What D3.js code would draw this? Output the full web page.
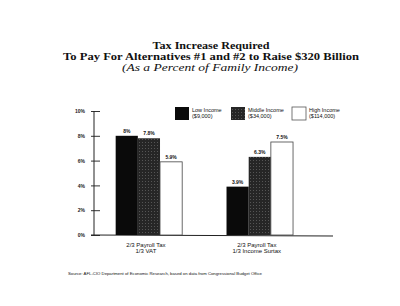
<!DOCTYPE html>
<meta charset="utf-8">
<script src="https://d3js.org/d3.v7.min.js"></script>
<style type="text/css">
body { margin: 0; background: #fff; }
.title { font-family: "Liberation Serif", "DejaVu Serif", serif; font-weight: bold; fill: #111; }
.sub { font-family: "Liberation Serif", serif; font-style: italic; fill: #111; }
.small { font-family: "Liberation Sans", Arial, sans-serif; fill: #111; }
.axis text { font-family: "Liberation Sans", Arial, sans-serif; font-size: 5px; font-weight: bold; fill: #222; }
.axis line, .axis path { stroke: #333; }
</style>
<body>
</body>
<script>
var categories = [["2/3 Payroll Tax", "1/3 VAT"], ["2/3 Payroll Tax", "1/3 Income Surtax"]];
var seriesNames = ["Low Income", "Middle Income", "High Income"];
var seriesIncome = ["($9,000)", "($34,000)", "($114,000)"];
var lowIncome = [8, 3.9];
var middleIncome = [7.8, 6.3];
var highIncome = [5.9, 7.5];
var valueLabels = [["8%", "7.8%", "5.9%"], ["3.9%", "6.3%", "7.5%"]];
var yTicks = [0, 2, 4, 6, 8, 10];

var fills = ["#0a0a0a", "#2e2e2e", "#ffffff"];

var svg = d3.select("body").append("svg")
    .attr("width", 400)
    .attr("height", 306);

var defs = svg.append("defs");
var pat = defs.append("pattern")
    .attr("id", "stipple")
    .attr("width", 3).attr("height", 3)
    .attr("patternUnits", "userSpaceOnUse");
pat.append("rect").attr("width", 3).attr("height", 3).attr("fill", "#262626");
pat.append("rect").attr("x", 1).attr("y", 1).attr("width", 1).attr("height", 1).attr("fill", "#555");

// titles
svg.append("text").attr("class", "title")
    .attr("x", 211).attr("y", 49).attr("text-anchor", "middle")
    .attr("font-size", "10.5px").attr("textLength", 117).attr("lengthAdjust", "spacingAndGlyphs")
    .text("Tax Increase Required");
svg.append("text").attr("class", "title")
    .attr("x", 211).attr("y", 60).attr("text-anchor", "middle")
    .attr("font-size", "10.5px").attr("textLength", 296).attr("lengthAdjust", "spacingAndGlyphs")
    .text("To Pay For Alternatives #1 and #2 to Raise $320 Billion");
svg.append("text").attr("class", "sub")
    .attr("x", 210).attr("y", 70.5).attr("text-anchor", "middle")
    .attr("font-size", "10.5px").attr("textLength", 176).attr("lengthAdjust", "spacingAndGlyphs")
    .text("(As a Percent of Family Income)");

var x0 = 94, y0 = 235;
var yScale = d3.scaleLinear().domain([0, 10]).range([y0, 111]);
var xScale = d3.scaleBand().domain([0, 1]).range([93.5, 315.2]).paddingInner(0.4).paddingOuter(0.2);
var xSub = d3.scaleBand().domain([0, 1, 2]).range([0, xScale.bandwidth()]);

var yAxis = svg.append("g")
    .attr("class", "axis")
    .attr("transform", "translate(" + x0 + ",0)")
    .call(d3.axisLeft(yScale).tickValues(yTicks).tickSize(0).tickPadding(9).tickFormat(function(d) { return d + "%"; }));
yAxis.select(".domain").remove();
yAxis.selectAll(".tick line").attr("x1", -3).attr("x2", 6).attr("stroke", "#333");
svg.append("line").attr("x1", x0).attr("x2", x0).attr("y1", yScale(10)).attr("y2", y0)
    .attr("stroke", "#222").attr("stroke-width", 1);
svg.append("line").attr("x1", x0 - 3).attr("x2", 333).attr("y1", y0).attr("y2", y0 + 1)
    .attr("stroke", "#222").attr("stroke-width", 1);

var data = [];
[lowIncome, middleIncome, highIncome].forEach(function(s, si) {
  s.forEach(function(v, ci) { data.push({c: ci, s: si, v: v}); });
});

svg.selectAll(".bar").data(data).enter().append("rect")
    .attr("class", "bar")
    .attr("x", function(d) { return xScale(d.c) + xSub(d.s); })
    .attr("y", function(d) { return yScale(d.v); })
    .attr("width", xSub.bandwidth())
    .attr("height", function(d) { return y0 - yScale(d.v); })
    .attr("fill", function(d) { return d.s == 1 ? "url(#stipple)" : fills[d.s]; })
    .attr("stroke", function(d) { return d.s == 2 ? "#444" : "none"; })
    .attr("stroke-width", 0.8);

svg.selectAll(".vlab").data(data).enter().append("text")
    .attr("class", "small")
    .attr("x", function(d) { return xScale(d.c) + xSub(d.s) + xSub.bandwidth() / 2; })
    .attr("y", function(d) { return yScale(d.v) - 3; })
    .attr("text-anchor", "middle")
    .attr("font-size", "5px").attr("font-weight", "bold")
    .text(function(d) { return valueLabels[d.c][d.s]; });

// category labels
categories.forEach(function(lines, ci) {
  var t = svg.append("text").attr("class", "small")
      .attr("text-anchor", "middle").attr("font-size", "6px");
  lines.forEach(function(l, li) {
    t.append("tspan").attr("x", xScale(ci) + xScale.bandwidth() / 2 - 3)
        .attr("y", 247 + li * 6).text(l);
  });
});

// legend
var legendX = [175, 231, 292];
seriesNames.forEach(function(n, i) {
  svg.append("rect").attr("x", legendX[i]).attr("y", 107).attr("width", 14).attr("height", 13)
      .attr("fill", i == 1 ? "url(#stipple)" : fills[i])
      .attr("stroke", i == 2 ? "#555" : "none").attr("stroke-width", 0.8);
  var t = svg.append("text").attr("class", "small").attr("font-size", "5.5px");
  t.append("tspan").attr("x", legendX[i] + 17).attr("y", 112).text(n);
  t.append("tspan").attr("x", legendX[i] + 17).attr("y", 118).text(seriesIncome[i]);
});

svg.append("text").attr("class", "small")
    .attr("x", 68).attr("y", 275).attr("font-size", "4.3px")
    .attr("textLength", 194).attr("lengthAdjust", "spacingAndGlyphs")
    .text("Source: AFL-CIO Department of Economic Research, based on data from Congressional Budget Office");
</script>
